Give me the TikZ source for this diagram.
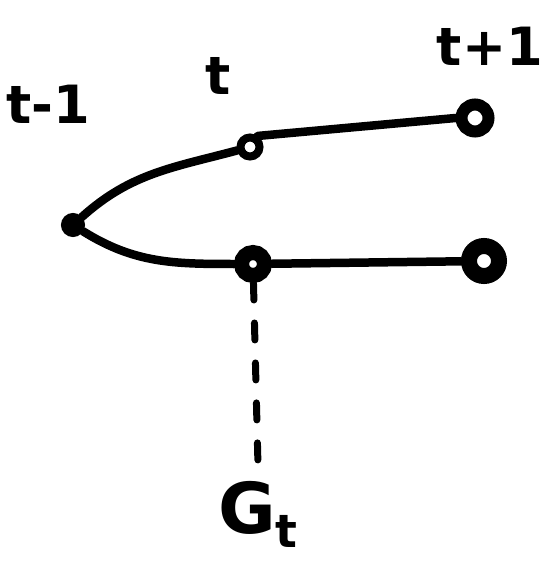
\documentclass[tikz,border=0pt]{standalone}
\usepackage{fontspec}
\setmainfont{DejaVu Sans}
\usepackage{tikz}
\usetikzlibrary{positioning}

\begin{document}
\begin{tikzpicture}[
    x=0.02cm, y=-0.02cm,
    state/.style={
        circle,
        draw,
        inner sep=0pt,
        minimum size=0.38cm,
        line width=0.16cm
    },
    rootstate/.style={state, fill, minimum size=0.34cm, line width=0.14cm},
    edge/.style={line width=0.17cm, line cap=round},
    guide/.style={line width=0.14cm, line cap=round, dash pattern=on 0.34cm off 0.46cm},
    label/.style={font=\bfseries\fontsize{30}{32}\selectfont}
]
\useasboundingbox (0,0) rectangle (551,564);

% time labels
\node[label] (lblprev) at (48,104) {t-1};
\node[label] (lblnow) at (218,76) {t};
\node[label] (lblnext) at (490,46) {t+1};

% tree
\node[rootstate] (root) at (73,225) {};
\node[state] (topmid) at (250,147) {};
\node[state, minimum size=0.54cm, line width=0.24cm] (topright) at (475,118) {};
\node[state, minimum size=0.46cm, line width=0.3cm] (botmid) at (253,264) {};
\node[state, minimum size=0.6cm, line width=0.32cm] (botright) at (484,261) {};

\draw[edge] (root) to[out=42, in=195] (topmid);
\draw[edge] (root) to[out=-32, in=180] (botmid);
\draw[edge] (topmid.55) -- (topright.west);
\draw[edge] (botmid) -- (botright);

% return
\node[font=\bfseries\fontsize{40}{42}\selectfont] (lblg) at (258,514)
    {G\raisebox{-0.2em}{\fontsize{26}{28}\selectfont t}};
\coordinate (gtop) at (258,466);
\draw[guide] (botmid) -- (gtop);

\end{tikzpicture}
\end{document}
